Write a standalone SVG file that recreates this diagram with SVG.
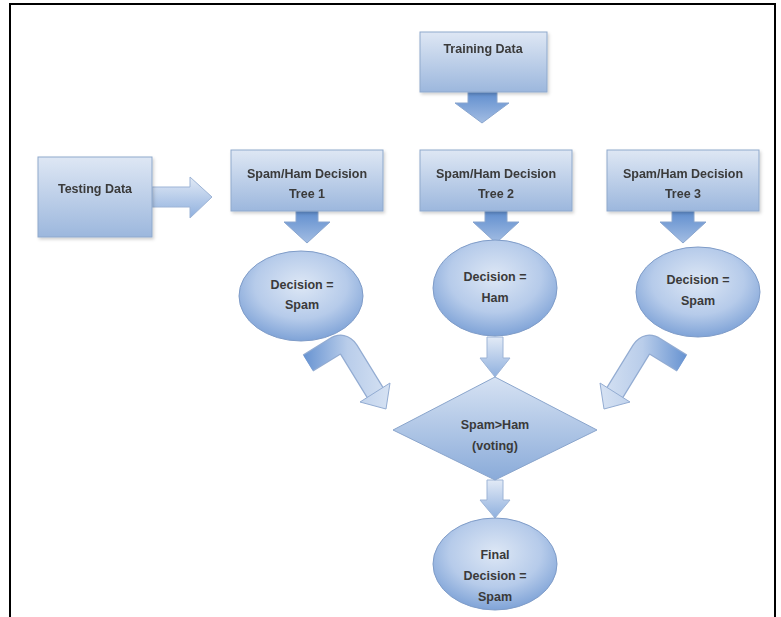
<svg xmlns="http://www.w3.org/2000/svg" width="781" height="617" viewBox="0 0 781 617">
<style>
.lbl{font-family:"Liberation Sans",Arial,sans-serif;font-size:12.5px;font-weight:bold;fill:#3a3a3a;text-anchor:middle}
.box{fill:url(#gBox);stroke:#8fa9cc;stroke-width:1}
.ell{fill:url(#gEll);stroke:#7f9cc8;stroke-width:1}
.darr{fill:url(#gDark);stroke:#8aa6cf;stroke-width:1}
.larr{fill:url(#gLight);stroke:#9db4d6;stroke-width:1}
.frame{stroke:#000;stroke-width:2;fill:none}
</style>
<defs>
<linearGradient id="gBox" x1="0" y1="0" x2="0" y2="1"><stop offset="0" stop-color="#dee7f4"/><stop offset="1" stop-color="#9cb7dd"/></linearGradient>
<radialGradient id="gEll" cx="0.5" cy="0.38" r="0.62"><stop offset="0" stop-color="#dde7f5"/><stop offset="0.6" stop-color="#b6cbea"/><stop offset="1" stop-color="#7fa3d7"/></radialGradient>
<linearGradient id="gDark" x1="0" y1="0" x2="0" y2="1"><stop offset="0" stop-color="#5f8dce"/><stop offset="1" stop-color="#a3bde3"/></linearGradient>
<linearGradient id="gLight" x1="0" y1="0" x2="0" y2="1"><stop offset="0" stop-color="#e2eaf6"/><stop offset="1" stop-color="#8fb0de"/></linearGradient>
<linearGradient id="gDia" x1="0" y1="0" x2="0" y2="1"><stop offset="0" stop-color="#d6e2f3"/><stop offset="1" stop-color="#8aabd9"/></linearGradient>
<linearGradient id="gCurveL" gradientUnits="userSpaceOnUse" x1="305" y1="0" x2="390" y2="0"><stop offset="0" stop-color="#6a95d2"/><stop offset="0.5" stop-color="#b9cdea"/><stop offset="1" stop-color="#d6e2f3"/></linearGradient>
<linearGradient id="gCurveR" gradientUnits="userSpaceOnUse" x1="685" y1="0" x2="600" y2="0"><stop offset="0" stop-color="#6a95d2"/><stop offset="0.5" stop-color="#b9cdea"/><stop offset="1" stop-color="#d6e2f3"/></linearGradient>
<filter id="sh" x="-10%" y="-10%" width="130%" height="130%"><feDropShadow dx="1.5" dy="2" stdDeviation="1.5" flood-color="#000" flood-opacity="0.18"/></filter>
</defs>
<rect x="0" y="0" width="781" height="617" fill="#fff"/>
<g id="frame">
<path class="frame" d="M10,617 V4 H775 V617"/>
</g>
<g id="connectors">
<path class="darr" d="M468,92 H497 V103 H509 L482,123 L455,103 H468 Z"/>
<path class="larr" d="M152,187 H190 V177 L212,197 L190,218 V207 H152 Z"/>
<path class="darr" d="M296,211 H318 V222 H330 L307,243 L284,222 H296 Z"/>
<path class="darr" d="M485,211 H507 V222 H519 L496,243 L473,222 H485 Z"/>
<path class="darr" d="M672,211 H694 V222 H706 L683,243 L660,222 H672 Z"/>
<path class="larr" d="M487,337 H503 V358 H510 L495,377 L480,358 H487 Z"/>
<path class="larr" d="M487,480 H503 V500 H510 L495,518 L480,500 H487 Z"/>
<g id="curveL">
<path d="M308,363 L334,347 Q343,341 349,350 L376,394" fill="none" stroke="#93acd2" stroke-width="20" stroke-linejoin="round"/>
<path d="M308,363 L334,347 Q343,341 349,350 L376,394" fill="none" stroke="url(#gCurveL)" stroke-width="17.5" stroke-linejoin="round"/>
<path d="M390,383 L386,409 L360,402 Z" fill="url(#gCurveL)" stroke="#93acd2" stroke-width="1"/>
</g>
<g id="curveR">
<path d="M682,363 L656,347 Q647,341 641,350 L614,394" fill="none" stroke="#93acd2" stroke-width="20" stroke-linejoin="round"/>
<path d="M682,363 L656,347 Q647,341 641,350 L614,394" fill="none" stroke="url(#gCurveR)" stroke-width="17.5" stroke-linejoin="round"/>
<path d="M600,383 L604,409 L630,402 Z" fill="url(#gCurveR)" stroke="#93acd2" stroke-width="1"/>
</g>
</g>
<g id="training" filter="url(#sh)">
<rect class="box" x="420" y="32" width="127" height="60"/>
<text class="lbl" x="483" y="53">Training Data</text>
</g>
<g id="testing" filter="url(#sh)">
<rect class="box" x="38" y="157" width="114" height="80"/>
<text class="lbl" x="95" y="193">Testing Data</text>
</g>
<g id="tree1" filter="url(#sh)">
<rect class="box" x="231" y="150" width="152" height="61"/>
<text class="lbl" x="307" y="178">Spam/Ham Decision</text>
<text class="lbl" x="307" y="198">Tree 1</text>
</g>
<g id="tree2" filter="url(#sh)">
<rect class="box" x="420" y="150" width="152" height="61"/>
<text class="lbl" x="496" y="178">Spam/Ham Decision</text>
<text class="lbl" x="496" y="198">Tree 2</text>
</g>
<g id="tree3" filter="url(#sh)">
<rect class="box" x="607" y="150" width="152" height="61"/>
<text class="lbl" x="683" y="178">Spam/Ham Decision</text>
<text class="lbl" x="683" y="198">Tree 3</text>
</g>
<g id="dec1">
<ellipse class="ell" cx="301" cy="296" rx="62" ry="45"/>
<text class="lbl" x="302" y="289">Decision =</text>
<text class="lbl" x="302" y="309">Spam</text>
</g>
<g id="dec2">
<ellipse class="ell" cx="495" cy="288" rx="62" ry="48"/>
<text class="lbl" x="495" y="281">Decision =</text>
<text class="lbl" x="495" y="302">Ham</text>
</g>
<g id="dec3">
<ellipse class="ell" cx="698" cy="292" rx="62" ry="45"/>
<text class="lbl" x="698" y="284">Decision =</text>
<text class="lbl" x="698" y="305">Spam</text>
</g>
<g id="vote">
<polygon points="495,377 597,430 495,480 393,430" fill="url(#gDia)" stroke="#8aa5cc" stroke-width="1"/>
<text class="lbl" x="495" y="429">Spam&gt;Ham</text>
<text class="lbl" x="495" y="450">(voting)</text>
</g>
<g id="final">
<ellipse class="ell" cx="495" cy="564" rx="62" ry="46"/>
<text class="lbl" x="495" y="559">Final</text>
<text class="lbl" x="495" y="580">Decision =</text>
<text class="lbl" x="495" y="601">Spam</text>
</g>
</svg>
